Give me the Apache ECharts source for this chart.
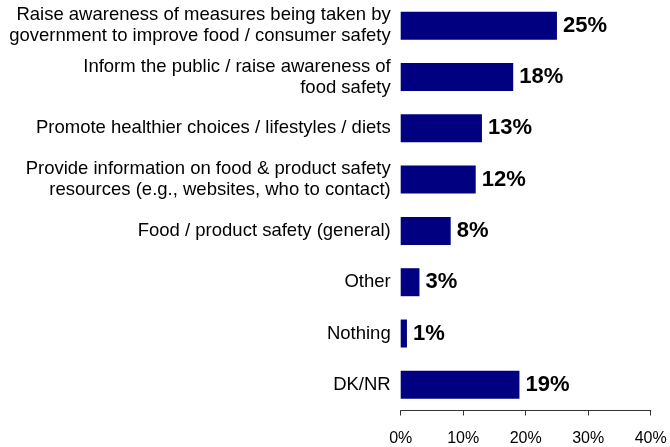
<!DOCTYPE html>
<html>
<head>
<meta charset="utf-8">
<script src="https://cdn.jsdelivr.net/npm/echarts@6/dist/echarts.min.js"></script>
<style>
  html, body { margin: 0; padding: 0; background: #fff; }
  #chart { width: 670px; height: 447px; }
</style>
</head>
<body>
<div id="chart"></div>
<script>
// Survey responses, listed top to bottom
const categories = [
  'Raise awareness of measures being taken by\ngovernment to improve food / consumer safety',
  'Inform the public / raise awareness of\nfood safety',
  'Promote healthier choices / lifestyles / diets',
  'Provide information on food & product safety\nresources (e.g., websites, who to contact)',
  'Food / product safety (general)',
  'Other',
  'Nothing',
  'DK/NR'
];
const values = [25, 18, 13, 12, 8, 3, 1, 19];
const xTicks = [0, 10, 20, 30, 40];

const font = 'Arial, "Liberation Sans", sans-serif';
const chart = echarts.init(document.getElementById('chart'));

chart.setOption({
  animation: false,
  grid: { left: 400.7, right: 19.3, top: 0, bottom: 36.5, containLabel: false },
  xAxis: {
    type: 'value',
    min: xTicks[0],
    max: xTicks[xTicks.length - 1],
    interval: xTicks[1] - xTicks[0],
    splitLine: { show: false },
    axisLine: { show: true, lineStyle: { color: '#333', width: 1 } },
    axisTick: { show: true, length: 5, lineStyle: { color: '#333' } },
    axisLabel: { formatter: v => v + '%', fontFamily: font, fontSize: 16, color: '#000', margin: 20 }
  },
  yAxis: {
    type: 'category',
    inverse: true,
    data: categories,
    axisLine: { show: false },
    axisTick: { show: false },
    axisLabel: { fontFamily: font, fontSize: 18.5, lineHeight: 21, color: '#000', margin: 10, align: 'right' }
  },
  series: [{
    type: 'bar',
    data: values,
    barWidth: 28,
    itemStyle: { color: '#000080' },
    label: {
      show: true,
      position: 'right',
      distance: 6,
      formatter: p => p.value + '%',
      fontFamily: font,
      fontSize: 22,
      fontWeight: 'bold',
      color: '#000'
    }
  }]
});
</script>
</body>
</html>
